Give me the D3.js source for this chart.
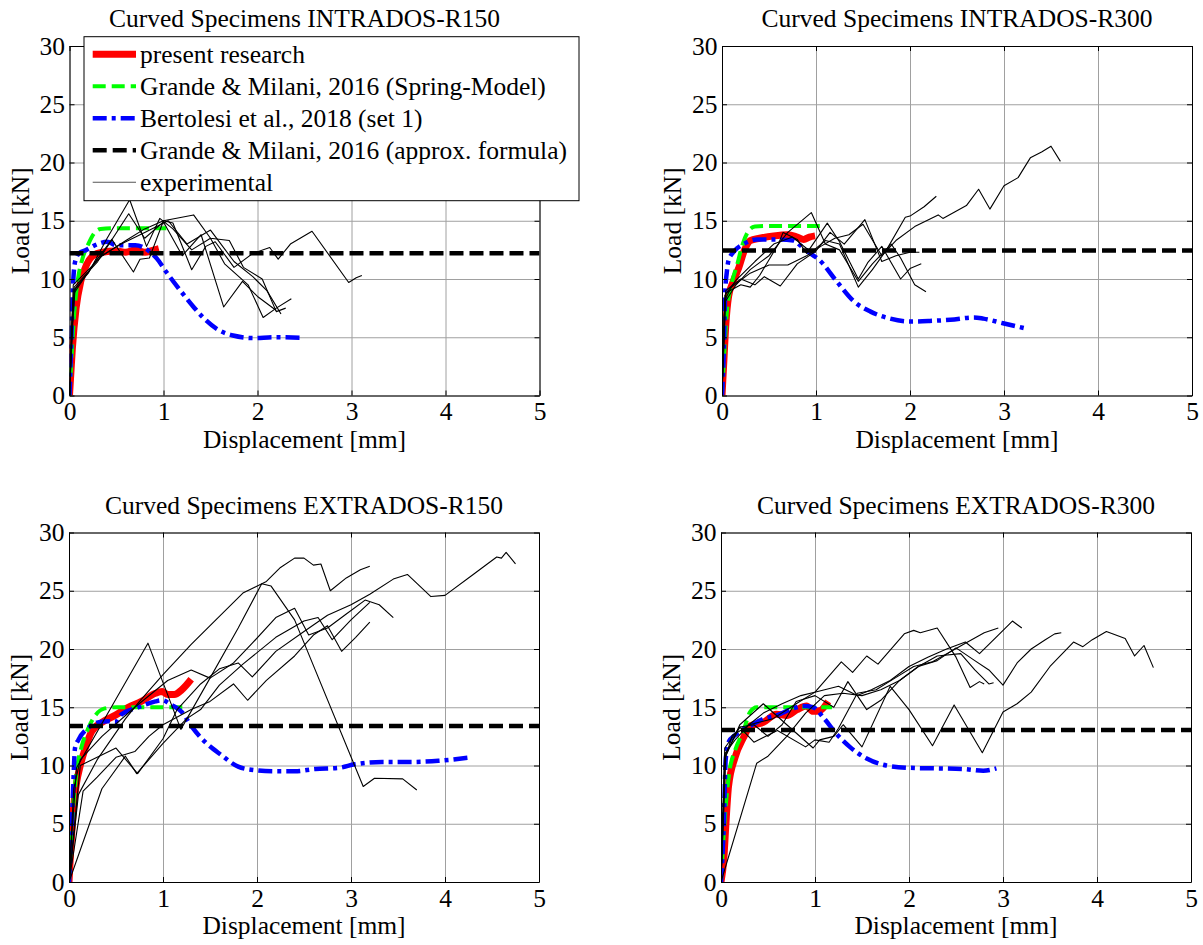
<!DOCTYPE html>
<html>
<head>
<meta charset="utf-8">
<script src="https://cdn.jsdelivr.net/npm/d3@7"></script>
<style>
  body { margin: 0; background: #fff; }
  svg text { font-family: "Liberation Serif", "Times New Roman", serif; font-size: 25.5px; fill: #000; }
</style>
</head>
<body>
<div id="wrapper"></div>
<script>
// tick values
const xTicks = [0, 1, 2, 3, 4, 5]
const yTicks = [0, 5, 10, 15, 20, 25, 30]

const legendLabels = [
  "present research",
  "Grande & Milani, 2016 (Spring-Model)",
  "Bertolesi et al., 2018 (set 1)",
  "Grande & Milani, 2016 (approx. formula)",
  "experimental"
]

// ---- INTRADOS-R150 ----
const intR150Present = [[0,0],[0.03,4],[0.07,7.5],[0.12,9.8],[0.18,11.2],[0.25,12.0],[0.35,12.3],[0.5,12.4],[0.6,12.3],[0.7,12.5],[0.8,12.3],[0.9,12.5],[0.95,12.6]]
const intR150Spring = [[0,0],[0.02,3],[0.05,7],[0.09,10],[0.14,11.8],[0.2,13.0],[0.26,13.9],[0.33,14.3],[0.45,14.35],[1.03,14.35]]
const intR150Bertolesi = [[0,0],[0.02,5],[0.035,9],[0.06,11.5],[0.1,12.2],[0.18,12.5],[0.3,13.0],[0.4,13.2],[0.5,12.9],[0.7,12.9],[0.86,12.3],[0.93,11.75],[1.03,10.6],[1.18,9.0],[1.32,7.6],[1.42,6.7],[1.57,5.7],[1.74,5.15],[1.96,4.93],[2.17,5.0],[2.5,4.95]]
const intR150Approx = 12.2
const intR150Exp = [
  [[0,0],[0.03,6],[0.06,9.2],[0.2,10.5],[0.4,13.5],[0.64,16.8],[0.82,12.8],[0.96,15.2],[1.1,14.3],[1.3,12.5],[1.5,13.5],[1.65,11.3],[1.9,9.5],[2.06,6.7],[2.2,7.5],[2.36,8.3]],
  [[0,0],[0.03,6.5],[0.05,9.3],[0.3,11.5],[0.63,15.6],[0.8,13.5],[1.0,14.9],[1.2,12.0],[1.4,13.8],[1.64,7.6],[1.84,9.8],[2.0,8.5],[2.2,7.3]],
  [[0,0],[0.03,7],[0.05,9],[0.2,10.6],[0.45,13.4],[0.68,10.6],[0.75,11.7],[0.85,11.8],[1.0,15.0],[1.1,14.8],[1.3,10.8],[1.45,12.8],[1.55,13.2],[1.75,11.0],[1.95,12.2],[2.13,12.7],[2.22,11.7],[2.35,13.0],[2.58,14.1],[2.97,9.7],[3.05,10.1],[3.11,10.3]],
  [[0,0],[0.04,9.5],[0.35,12],[0.6,13.3],[0.8,14.3],[1.0,15.0],[1.32,15.5],[1.5,13.5],[1.7,13.3],[1.85,11.0],[2.05,10.0],[2.2,7.2],[2.3,7.5]],
  [[0,0],[0.05,8.8],[0.3,11.8],[0.55,13.0],[0.8,14.0],[1.05,15.0],[1.25,13.0],[1.5,14.2],[1.75,11.5],[1.95,10.2],[2.1,9.0],[2.25,7.0]]
]

// ---- INTRADOS-R300 ----
const intR300Present = [[0,0],[0.02,3],[0.04,6],[0.07,8.5],[0.12,9.8],[0.18,11],[0.24,12.5],[0.3,13.3],[0.4,13.5],[0.55,13.7],[0.7,13.8],[0.8,13.6],[0.87,13.4],[0.93,13.6],[0.99,13.7]]
const intR300Spring = [[0,0],[0.02,3],[0.05,7],[0.1,9.5],[0.16,11.2],[0.22,13.0],[0.28,14.1],[0.35,14.5],[0.5,14.55],[1.04,14.55]]
const intR300Bertolesi = [[0,0],[0.02,4],[0.035,9],[0.05,10.5],[0.07,11.6],[0.12,12.3],[0.23,13.0],[0.37,13.4],[0.58,13.4],[0.76,13.3],[0.83,12.9],[0.94,12.2],[1.04,11.6],[1.22,9.8],[1.4,8.1],[1.58,7.2],[1.79,6.6],[2.0,6.35],[2.21,6.4],[2.43,6.5],[2.68,6.7],[2.78,6.6],[2.99,6.2],[3.26,5.7]]
const intR300Approx = 12.45
const intR300Exp = [
  [[0,0],[0.03,8.2],[0.1,9.3],[0.3,10.5],[0.5,11.2],[0.7,11.2],[0.9,12.0],[1.05,12.8],[1.2,13.5],[1.35,13.8],[1.5,14.7],[1.7,12.0],[1.85,13.3],[2.05,14.5],[2.3,15.5],[2.35,15.2],[2.6,16.3],[2.73,17.7],[2.85,16.0],[3.0,18.0],[3.15,18.7],[3.28,20.4],[3.4,20.9],[3.5,21.4],[3.6,20.1]],
  [[0,0],[0.03,8.6],[0.15,9.9],[0.35,11.5],[0.55,13.0],[0.75,13.6],[0.95,12.3],[1.1,13.3],[1.25,13.0],[1.45,9.3],[1.6,10.8],[1.75,12.5],[1.95,15.3],[2.0,15.4],[2.15,16.2],[2.28,17.1]],
  [[0,0],[0.03,8],[0.15,9.5],[0.3,10.8],[0.5,12.0],[0.7,14.0],[0.95,15.7],[1.1,13.0],[1.25,12.5],[1.45,9.8],[1.6,11.3],[1.8,13.0],[1.9,11.8],[2.05,9.5],[2.17,8.9]],
  [[0,0],[0.04,8.8],[0.2,9.5],[0.3,9.3],[0.4,10.3],[0.6,13.0],[0.65,14.0],[0.8,13.4],[0.9,12.2],[1.12,14.8],[1.25,13.2],[1.45,10.0],[1.55,11.4],[1.7,12.8],[1.9,10.0],[2.0,10.9],[2.12,11.3]],
  [[0,0],[0.04,9.0],[0.2,10.0],[0.35,9.5],[0.45,10.2],[0.62,9.4],[0.8,11.3],[1.0,12.4],[1.15,14.0],[1.3,13.0],[1.52,15.1],[1.7,11.5],[1.85,12.0],[2.0,12.3],[2.1,12.3]]
]

// ---- EXTRADOS-R150 ----
const extR150Present = [[0,0],[0.02,3],[0.05,6.5],[0.08,8.5],[0.12,10],[0.17,11.4],[0.24,12.9],[0.35,13.7],[0.49,14.3],[0.63,15.0],[0.77,15.5],[0.92,16.2],[0.99,16.35],[1.05,16.1],[1.12,16.1],[1.2,16.5],[1.3,17.4]]
const extR150Spring = [[0,0],[0.02,3],[0.05,7],[0.09,10],[0.13,11.5],[0.2,13.1],[0.28,14.3],[0.38,14.9],[0.5,15.0],[1.27,15.0]]
const extR150Bertolesi = [[0,0],[0.03,5],[0.046,8.5],[0.064,11.5],[0.1,12.2],[0.2,13.2],[0.31,13.7],[0.42,13.8],[0.49,13.7],[0.56,14.4],[0.74,15.0],[0.92,15.5],[0.99,15.6],[1.09,15.2],[1.2,14.6],[1.3,13.4],[1.45,12.0],[1.62,10.9],[1.8,9.9],[1.98,9.6],[2.19,9.5],[2.4,9.5],[2.62,9.7],[2.87,9.8],[3.04,10.1],[3.33,10.3],[3.62,10.3],[3.93,10.4],[4.28,10.7]]
const extR150Approx = 13.4
const extR150Exp = [
  [[0,0],[0.03,4],[0.08,9.8],[0.84,20.5],[1.19,13.1],[1.5,17.5],[1.8,21.8],[2.05,25.6],[2.15,25.4],[2.4,22.5],[3.13,8.2],[3.25,8.9],[3.55,8.85],[3.7,7.9]],
  [[0,0],[0.1,7.5],[0.3,10.5],[0.6,14.0],[0.75,15.5],[1.0,17.8],[1.3,20.4],[1.6,22.8],[1.85,24.8],[2.1,25.8],[2.25,27.0],[2.4,27.8],[2.5,27.8],[2.6,27.2],[2.68,27.3],[2.78,25.0],[2.95,26.1],[3.1,26.8],[3.2,27.1]],
  [[0,0],[0.05,8],[0.12,10.5],[0.35,12.5],[0.7,15.0],[1.05,17.3],[1.3,18.2],[1.5,17.5],[1.75,18.8],[1.95,20.5],[2.2,22.7],[2.4,23.5],[2.55,21.2],[2.75,21.8],[2.95,23.0],[3.15,24.2],[3.3,23.8],[3.45,22.7]],
  [[0,0],[0.12,10],[0.5,11.5],[0.73,9.3],[1.0,12.3],[1.15,14.8],[1.4,17.0],[1.6,18.3],[1.8,18.8],[1.95,17.6],[2.2,19.8],[2.5,21.5],[2.75,22.9],[3.0,23.8],[3.2,24.7],[3.45,26.0],[3.6,26.4],[3.85,24.5],[4.0,24.6],[4.3,26.4],[4.45,27.3],[4.55,27.9],[4.6,27.8],[4.65,28.3],[4.75,27.3]],
  [[0,0],[0.15,7.8],[0.3,9.0],[0.5,10.7],[0.7,11.2],[0.85,12.5],[1.0,13.5],[1.3,14.8],[1.5,15.5],[1.75,17.0],[1.9,15.6],[2.1,17.3],[2.4,19.4],[2.6,21.2],[2.75,22.0],[2.9,19.8],[3.05,21.0],[3.2,22.3]],
  [[0,0],[0.35,8.0],[0.6,10.8],[0.72,9.3],[1.0,11.9],[1.25,14.0],[1.4,14.8],[1.6,16.9],[1.85,18.7],[2.2,21.0],[2.5,22.4],[2.65,22.7],[2.8,20.8],[3.0,22.5],[3.2,24.0]]
]

// ---- EXTRADOS-R300 ----
const extR300Present = [[0,0],[0.03,2],[0.05,4.7],[0.08,8.2],[0.15,10.7],[0.24,12.4],[0.31,13.4],[0.45,13.7],[0.59,14.4],[0.7,14.3],[0.81,14.8],[0.91,15.1],[0.98,14.65],[1.05,14.7],[1.14,15.5]]
const extR300Spring = [[0,0],[0.02,3],[0.05,6.5],[0.09,9.5],[0.15,11.3],[0.24,13.0],[0.31,14.6],[0.38,15.0],[1.18,15.0]]
const extR300Bertolesi = [[0,0],[0.03,5],[0.05,10.5],[0.08,12.0],[0.15,12.6],[0.31,13.4],[0.45,14.0],[0.59,14.3],[0.77,14.9],[0.87,15.1],[0.98,15.0],[1.09,14.1],[1.23,12.7],[1.37,11.6],[1.55,10.6],[1.76,10.0],[2.01,9.8],[2.29,9.75],[2.58,9.7],[2.79,9.55],[2.93,9.75]]
const extR300Approx = 13.05
const extR300Exp = [
  [[0,0],[0.04,11],[0.15,12.2],[0.3,13.5],[0.55,14.0],[0.8,15.3],[1.0,16.3],[1.28,18.9],[1.4,18.0],[1.55,19.4],[1.67,18.7],[1.95,21.3],[2.05,21.6],[2.12,21.4],[2.3,21.8],[2.5,19.3],[2.65,16.7],[2.75,17.2],[2.8,17.0]],
  [[0,0],[0.04,10.5],[0.12,12.6],[0.25,13.2],[0.45,14.5],[0.65,15.3],[0.85,16.0],[1.05,16.4],[1.25,16.8],[1.45,16.0],[1.6,16.5],[1.8,17.3],[2.0,18.5],[2.2,19.3],[2.4,20.0],[2.6,20.6],[2.75,19.6],[2.95,21.2],[3.1,22.4],[3.2,21.8]],
  [[0,0],[0.05,11.0],[0.2,13.3],[0.35,13.5],[0.5,12.5],[0.65,13.5],[0.8,15.5],[1.0,16.0],[1.2,15.0],[1.35,17.2],[1.55,14.8],[1.7,15.6],[1.9,17.3],[2.1,18.5],[2.3,19.0],[2.5,20.1],[2.7,19.0],[2.85,18.2],[3.0,16.9],[3.15,18.8],[3.3,20.0],[3.45,20.8],[3.55,21.3],[3.62,21.4]],
  [[0,0],[0.05,10.8],[0.2,13.5],[0.45,15.3],[0.7,13.5],[0.98,11.5],[1.05,12.2],[1.2,12.5],[1.3,13.5],[1.5,11.6],[1.8,16.8],[2.0,14.8],[2.25,11.7],[2.48,15.2],[2.78,11.1],[3.0,14.6],[3.15,15.3],[3.3,16.3],[3.5,18.5],[3.75,20.6],[3.85,20.2],[3.95,20.8],[4.1,21.5],[4.3,20.9],[4.4,19.4],[4.5,20.3],[4.6,18.4]],
  [[0,0],[0.38,10.2],[0.5,10.8],[0.7,12.5],[0.9,14.5],[1.1,16.0],[1.3,16.2],[1.5,16.0],[1.7,16.5],[1.9,17.3],[2.1,18.5],[2.3,19.4],[2.55,19.6],[2.7,18.2],[2.85,17.0],[2.9,17.1]],
  [[0,0],[0.04,11.5],[0.2,13.3],[0.35,12.0],[0.6,13.0],[0.9,11.6],[1.0,12.2],[1.15,12.0],[1.25,13.2],[1.45,16.2],[1.65,16.5],[1.85,17.5],[2.05,18.5],[2.25,18.9],[2.45,19.8],[2.6,20.5],[2.8,21.4],[2.95,21.8]]
]

// chart dimensions
const dimensions = { width: 1203, height: 945, plotW: 470, plotH: 349.5 }

const panels = [
  { title: "Curved Specimens INTRADOS-R150", left: 69.5, top: 46, present: intR150Present, spring: intR150Spring, bertolesi: intR150Bertolesi, approx: intR150Approx, exp: intR150Exp, legend: true },
  { title: "Curved Specimens INTRADOS-R300", left: 722, top: 46, present: intR300Present, spring: intR300Spring, bertolesi: intR300Bertolesi, approx: intR300Approx, exp: intR300Exp },
  { title: "Curved Specimens EXTRADOS-R150", left: 69, top: 532.5, present: extR150Present, spring: extR150Spring, bertolesi: extR150Bertolesi, approx: extR150Approx, exp: extR150Exp },
  { title: "Curved Specimens EXTRADOS-R300", left: 721, top: 532.5, present: extR300Present, spring: extR300Spring, bertolesi: extR300Bertolesi, approx: extR300Approx, exp: extR300Exp }
]

const styles = {
  present:   { stroke: "#ff0000", width: 7,   dash: null },
  spring:    { stroke: "#00ff00", width: 4,   dash: "13,6" },
  bertolesi: { stroke: "#0000ff", width: 4.5, dash: "14,5,4,5" },
  approx:    { stroke: "#000000", width: 4.5, dash: "14,6" },
  exp:       { stroke: "#000000", width: 1.1, dash: null }
}

const serif = '"Liberation Serif", "Times New Roman", serif'

const wrapper = d3.select("#wrapper")
  .append("svg")
  .attr("width", dimensions.width)
  .attr("height", dimensions.height)

function drawPanel(p, i) {
  const w = dimensions.plotW, h = dimensions.plotH
  const xScale = d3.scaleLinear().domain([0, 5]).range([0, w])
  const yScale = d3.scaleLinear().domain([0, 30]).range([h, 0])

  const bounds = wrapper.append("g")
    .attr("transform", `translate(${p.left},${p.top})`)

  // grid
  const gx = bounds.append("g").attr("transform", `translate(0,${h})`)
    .call(d3.axisBottom(xScale).tickValues(xTicks).tickSize(-h).tickFormat(""))
  const gy = bounds.append("g")
    .call(d3.axisLeft(yScale).tickValues(yTicks).tickSize(-w).tickFormat(""))
  ;[gx, gy].forEach(g => {
    g.select(".domain").remove()
    g.selectAll("line").attr("stroke", "#a0a0a0").attr("stroke-width", 1)
  })

  bounds.append("clipPath").attr("id", "clip" + i)
    .append("rect").attr("width", w).attr("height", h)
  const plot = bounds.append("g").attr("clip-path", `url(#clip${i})`)

  const lineGen = d3.line().x(d => xScale(d[0])).y(d => yScale(d[1]))
  const smoothGen = d3.line().x(d => xScale(d[0])).y(d => yScale(d[1])).curve(d3.curveMonotoneX)

  const addPath = (data, st, gen) => plot.append("path")
    .attr("d", gen(data))
    .attr("fill", "none")
    .attr("stroke", st.stroke)
    .attr("stroke-width", st.width)
    .attr("stroke-dasharray", st.dash)
    .attr("stroke-linejoin", "round")

  addPath(p.present, styles.present, smoothGen)
  addPath(p.spring, styles.spring, smoothGen)
  addPath(p.bertolesi, styles.bertolesi, smoothGen)
  addPath([[0, p.approx], [5, p.approx]], styles.approx, lineGen)
  p.exp.forEach(s => addPath(s, styles.exp, lineGen))

  // axes (box with inward ticks)
  const fmt = d3.format("d")
  const axes = [
    bounds.append("g").attr("transform", `translate(0,${h})`)
      .call(d3.axisBottom(xScale).tickValues(xTicks).tickFormat(fmt).tickSizeInner(-5).tickSizeOuter(0).tickPadding(6.5)),
    bounds.append("g")
      .call(d3.axisLeft(yScale).tickValues(yTicks).tickFormat(fmt).tickSizeInner(-5).tickSizeOuter(0).tickPadding(4.5)),
    bounds.append("g")
      .call(d3.axisTop(xScale).tickValues(xTicks).tickSizeInner(-5).tickSizeOuter(0).tickFormat("")),
    bounds.append("g").attr("transform", `translate(${w},0)`)
      .call(d3.axisRight(yScale).tickValues(yTicks).tickSizeInner(-5).tickSizeOuter(0).tickFormat(""))
  ]
  axes.forEach(a => {
    a.attr("font-size", null).attr("font-family", null)
    a.selectAll("line, .domain").attr("stroke", "#000").attr("stroke-width", 1)
    a.selectAll("text").attr("font-family", serif).attr("font-size", "25.5px")
  })

  // labels
  bounds.append("text")
    .attr("x", w / 2).attr("y", -18.7)
    .attr("text-anchor", "middle")
    .text(p.title)
  bounds.append("text")
    .attr("x", w / 2).attr("y", h + 52)
    .attr("text-anchor", "middle")
    .text("Displacement [mm]")
  bounds.append("text")
    .attr("transform", `translate(-41,${h / 2}) rotate(-90)`)
    .attr("text-anchor", "middle")
    .text("Load [kN]")

  if (p.legend) drawLegend()
}

function drawLegend() {
  const lg = wrapper.append("g")
  lg.append("rect")
    .attr("x", 84).attr("y", 36.7)
    .attr("width", 495).attr("height", 164)
    .attr("fill", "#fff").attr("stroke", "#000").attr("stroke-width", 1)
  const keys = ["present", "spring", "bertolesi", "approx", "exp"]
  const rowY = d3.scaleLinear().domain([0, 4]).range([54.3, 182.3])
  keys.forEach((k, j) => {
    const st = styles[k]
    lg.append("line")
      .attr("x1", 92.7).attr("x2", 136)
      .attr("y1", rowY(j)).attr("y2", rowY(j))
      .attr("stroke", k === "exp" ? "#555" : st.stroke)
      .attr("stroke-width", st.width)
      .attr("stroke-dasharray", st.dash)
    lg.append("text")
      .attr("x", 140).attr("y", rowY(j) + 8.5)
      .text(legendLabels[j])
  })
}

panels.forEach(drawPanel)
</script>
</body>
</html>
